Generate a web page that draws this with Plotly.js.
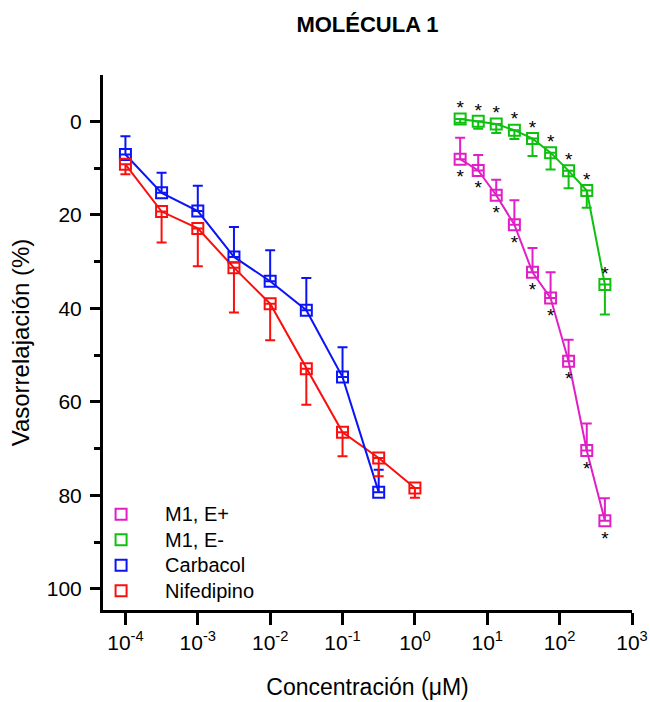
<!DOCTYPE html>
<html><head><meta charset="utf-8">
<script src="https://cdn.plot.ly/plotly-3.0.1.min.js"></script>
<style>body{margin:0;background:#fff;}#chart{width:650px;height:702px;}</style>
</head><body><div id="chart"></div>
<script>
// ---- data ----
const seriesNames = ['M1, E+', 'M1, E-', 'Carbacol', 'Nifedipino'];
const m1Conc = [4.22, 7.5, 13.3, 23.7, 42.2, 75, 133, 237, 422];           // µM
const refConc = [1e-4, 3.16e-4, 1e-3, 3.16e-3, 1e-2, 3.16e-2, 1e-1, 3.16e-1, 1]; // µM
const m1EPlus = [8.1, 10.5, 15.8, 22.1, 32.3, 37.8, 51.3, 70.4, 85.4];
const m1EPlusErr = [4.6, 3.3, 3.3, 5.2, 5.2, 5.5, 4.6, 5.8, 4.8];
const m1EMinus = [-0.5, 0, 0.6, 1.9, 3.7, 6.7, 10.6, 14.8, 34.9];
const m1EMinusErr = [0.8, 1.6, 1.9, 1.9, 3.7, 3.6, 3.7, 3.7, 6.4];
const carbacol = [7.1, 15.3, 19.2, 29.0, 34.2, 40.4, 54.7, 79.3];
const carbacolErr = [3.9, 4.3, 5.4, 6.4, 6.6, 6.9, 6.4, 4.8];
const nifedipino = [9.2, 19.3, 22.9, 31.3, 39.0, 52.9, 66.5, 72.0, 78.4];
const nifedipinoErr = [2.1, 6.6, 8.1, 9.6, 7.8, 7.7, 5.1, 3.9, 2.1];
const m1EPlusSig = ['*', '*', '*', '*', '*', '*', '*', '*', '*'];
const m1EMinusSig = ['*', '*', '*', '*', '*', '*', '*', '*', '*'];
const xTickVals = [1e-4, 1e-3, 1e-2, 1e-1, 1, 10, 100, 1000];
const xTickText = ['10<sup>-4</sup>', '10<sup>-3</sup>', '10<sup>-2</sup>', '10<sup>-1</sup>',
                   '10<sup>0</sup>', '10<sup>1</sup>', '10<sup>2</sup>', '10<sup>3</sup>'];

const colors = ['#e11fc6', '#10c010', '#0a14f5', '#fa0f0f'];
const FONT = 'Liberation Sans, Arial, Helvetica, sans-serif';

function lineTrace(x, y, c) {
  return {x: x, y: y, mode: 'lines', type: 'scatter', showlegend: false, hoverinfo: 'skip',
          line: {color: c, width: 2}};
}
function markTrace(name, x, y, err, up, c) {
  return {x: x, y: y, name: '<span style="font-size:20px">' + name + '</span>', mode: 'markers', type: 'scatter',
          marker: {symbol: 'square-open', size: 11, color: c, line: {width: 2, color: c}},
          error_y: {type: 'data', symmetric: false,
                    array: up ? y.map(() => 0) : err,
                    arrayminus: up ? err : y.map(() => 0),
                    color: c, thickness: 2, width: 5}};
}
function sigTrace(x, y, txt, pos, below) {
  const t = {x: x, y: y, mode: below ? 'markers+text' : 'text', type: 'scatter', text: txt, textposition: pos,
          showlegend: false, hoverinfo: 'skip', textfont: {family: FONT, size: 19, color: '#000'}};
  if (below) t.marker = {size: 14, color: 'rgba(0,0,0,0)', line: {width: 0}};
  return t;
}

const data = [
  lineTrace(refConc.slice(0, nifedipino.length), nifedipino, colors[3]),
  lineTrace(refConc.slice(0, carbacol.length), carbacol, colors[2]),
  lineTrace(m1Conc, m1EMinus, colors[1]),
  lineTrace(m1Conc, m1EPlus, colors[0]),
  markTrace(seriesNames[0], m1Conc, m1EPlus, m1EPlusErr, true, colors[0]),
  markTrace(seriesNames[1], m1Conc, m1EMinus, m1EMinusErr, false, colors[1]),
  markTrace(seriesNames[2], refConc.slice(0, carbacol.length), carbacol, carbacolErr, true, colors[2]),
  markTrace(seriesNames[3], refConc.slice(0, nifedipino.length), nifedipino, nifedipinoErr, false, colors[3]),
  sigTrace(m1Conc, m1EMinus, m1EMinusSig, 'top center', false),
  sigTrace(m1Conc, m1EPlus, m1EPlusSig, 'bottom center', true)
];

const layout = {
  width: 650, height: 702,
  margin: {l: 103, r: 18, t: 75, b: 92},
  paper_bgcolor: '#fff', plot_bgcolor: '#fff',
  font: {family: FONT, color: '#000', size: 20},
  title: {text: '<b>MOLÉCULA 1</b>', x: 0.5, xref: 'paper', y: 0.965, yref: 'container', yanchor: 'middle',
          font: {family: FONT, size: 22, color: '#000'}},
  showlegend: true,
  legend: {x: -0.049, xanchor: 'left', y: 0.212, yanchor: 'top', bgcolor: 'rgba(0,0,0,0)',
           font: {family: FONT, size: 17.3, color: '#000'}, itemwidth: 78, tracegroupgap: 0},
  xaxis: {type: 'log', range: [-4.31, 3.0], tickmode: 'array', tickvals: xTickVals, ticktext: xTickText,
          ticks: 'outside', ticklen: 12, tickwidth: 3, tickcolor: '#000',
          showline: true, linewidth: 3, linecolor: '#000', showgrid: false, zeroline: false,
          tickfont: {family: FONT, size: 21, color: '#000'},
          title: {text: 'Concentración (μM)', font: {family: FONT, size: 23, color: '#000'}, standoff: 26}},
  yaxis: {range: [104.5, -9.9], tickmode: 'linear', tick0: 0, dtick: 20,
          ticks: 'outside', ticklen: 10, tickwidth: 3, tickcolor: '#000', ticklabelstandoff: 4,
          minor: {tick0: 0, dtick: 10, ticks: 'outside', ticklen: 6, tickwidth: 3, tickcolor: '#000', showgrid: false},
          showline: true, linewidth: 3, linecolor: '#000', showgrid: false, zeroline: false,
          tickfont: {family: FONT, size: 21, color: '#000'},
          title: {text: 'Vasorrelajación (%)', font: {family: FONT, size: 24, color: '#000'}, standoff: 11}}
};

Plotly.newPlot('chart', data, layout, {displayModeBar: false, staticPlot: true});
</script></body></html>
